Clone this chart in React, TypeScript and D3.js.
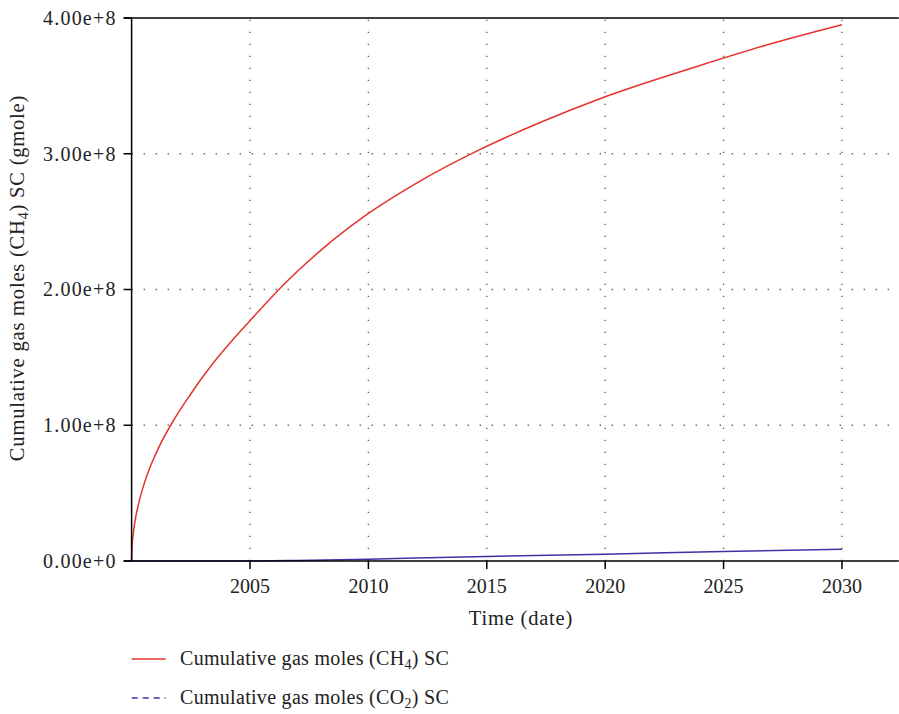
import React from "react";
import * as d3 from "d3";

// Simulation output: cumulative gas moles at surface conditions
const ch4Years = [2000, 2000.02, 2000.07, 2000.14, 2000.3, 2000.57, 2000.8, 2001, 2001.3, 2001.65, 2002, 2002.5, 2003, 2003.5, 2004.2, 2005, 2006.5, 2008, 2010, 2012, 2014.7, 2017.25, 2020, 2024, 2027, 2030];
const ch4Moles = [0, 0.11e8, 0.20e8, 0.29e8, 0.425e8, 0.59e8, 0.70e8, 0.78e8, 0.89e8, 1.00e8, 1.10e8, 1.23e8, 1.355e8, 1.47e8, 1.615e8, 1.77e8, 2.05e8, 2.29e8, 2.56e8, 2.78e8, 3.03e8, 3.23e8, 3.42e8, 3.65e8, 3.81e8, 3.95e8];

const co2Years = [2000, 2005, 2007, 2010, 2012, 2015, 2020, 2025, 2030];
const co2Moles = [0, 0.05e6, 0.4e6, 1.3e6, 2.2e6, 3.4e6, 5.0e6, 7.0e6, 8.6e6];

const xTicks = [2005, 2010, 2015, 2020, 2025, 2030];
const yTicks = [0, 1e8, 2e8, 3e8, 4e8];
const yTickLabels = ["0.00e+0", "1.00e+8", "2.00e+8", "3.00e+8", "4.00e+8"];

const W = 899;
const H = 714;
const left = 131.6;
const right = 898.8;
const top = 18;
const bottom = 561;

const FONT = "'Liberation Serif', 'Times New Roman', serif";
const TEXT = "#222";
const RED = "#e5332b";
const BLUE = "#3c33a3";

export default function App() {
  const x = d3.scaleLinear().domain([2000, 2032.4]).range([left, right]);
  const y = d3.scaleLinear().domain([0, 4e8]).range([bottom, top]);

  const line = d3
    .line<[number, number]>()
    .x((d) => x(d[0]))
    .y((d) => y(d[1]))
    .curve(d3.curveMonotoneX);

  const ch4 = ch4Years.map((t, i) => [t, ch4Moles[i]] as [number, number]);
  const co2 = co2Years.map((t, i) => [t, co2Moles[i]] as [number, number]);

  const grid = { stroke: "#555", strokeWidth: 1.3, strokeDasharray: "1.3 10.7" };
  const label = { fontSize: 20.5, fill: TEXT, letterSpacing: 0.8 };
  const legendText = { fontSize: 20, fill: TEXT, letterSpacing: 0.3 };

  return (
    <svg
      width={W}
      height={H}
      style={{ position: "absolute", left: 0, top: 0, background: "#fff" }}
      fontFamily={FONT}
    >
      <rect width={W} height={H} fill="#fff" />

      {/* dotted grid */}
      {xTicks.map((t) => (
        <line key={"gx" + t} x1={x(t)} x2={x(t)} y1={bottom} y2={top} {...grid} />
      ))}
      {yTicks.slice(1, -1).map((v) => (
        <line key={"gy" + v} x1={left} x2={right} y1={y(v)} y2={y(v)} {...grid} />
      ))}

      {/* series */}
      <path d={line(co2) ?? ""} fill="none" stroke={BLUE} strokeWidth={1.5} />
      <path d={line(ch4) ?? ""} fill="none" stroke={RED} strokeWidth={1.5} />

      {/* axes */}
      <line x1={left} x2={left} y1={top} y2={bottom} stroke="#000" strokeWidth={1.5} />
      <line x1={left - 8} x2={right} y1={bottom} y2={bottom} stroke="#000" strokeWidth={1.5} />
      <line x1={left - 8} x2={right} y1={top} y2={top} stroke="#000" strokeWidth={1.5} />

      {yTicks.map((v, i) => (
        <g key={"yt" + v}>
          <line x1={left - 8} x2={left} y1={y(v)} y2={y(v)} stroke="#000" strokeWidth={1.5} />
          <text
            x={left - 15}
            y={y(v)}
            dy="0.34em"
            textAnchor="end"
            fontSize={20}
            letterSpacing={1.2}
            fill={TEXT}
          >
            {yTickLabels[i]}
          </text>
        </g>
      ))}

      {xTicks.map((t) => (
        <g key={"xt" + t}>
          <line x1={x(t)} x2={x(t)} y1={bottom} y2={bottom + 8} stroke="#000" strokeWidth={1.5} />
          <text x={x(t)} y={593} textAnchor="middle" fontSize={20} fill={TEXT}>
            {t}
          </text>
        </g>
      ))}

      {/* axis titles */}
      <text x={521} y={625} textAnchor="middle" {...label}>
        Time (date)
      </text>
      <text transform="translate(24,278) rotate(-90)" textAnchor="middle" {...label}>
        Cumulative gas moles (CH
        <tspan fontSize={14} dy={4}>4</tspan>
        <tspan dy={-4}>) SC (gmole)</tspan>
      </text>

      {/* legend */}
      <line x1={131.7} x2={165.7} y1={659} y2={659} stroke={RED} strokeWidth={1.5} />
      <text x={180} y={665} {...legendText}>
        Cumulative gas moles (CH
        <tspan fontSize={14} dy={4}>4</tspan>
        <tspan dy={-4}>) SC</tspan>
      </text>
      <line
        x1={131.7}
        x2={165.7}
        y1={698}
        y2={698}
        stroke={BLUE}
        strokeWidth={1.5}
        strokeDasharray="6 5"
      />
      <text x={180} y={704} {...legendText}>
        Cumulative gas moles (CO
        <tspan fontSize={14} dy={4}>2</tspan>
        <tspan dy={-4}>) SC</tspan>
      </text>
    </svg>
  );
}
